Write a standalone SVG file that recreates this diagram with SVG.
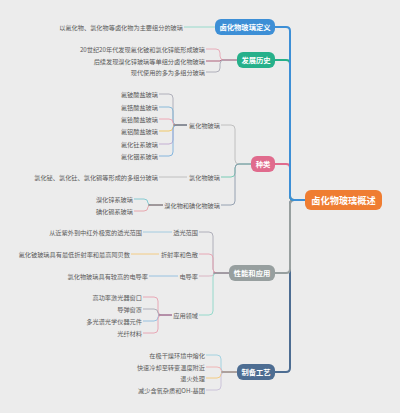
<svg xmlns="http://www.w3.org/2000/svg" width="400" height="413" viewBox="0 0 400 413">
<style>
.t{font-family:"Noto Sans CJK SC","Noto Sans",sans-serif;font-size:6.2px;fill:#5a5a5a;text-anchor:end;dominant-baseline:central}
.b{font-family:"Noto Sans CJK SC","Noto Sans",sans-serif;font-size:7.3px;font-weight:bold;fill:#fff;text-anchor:middle;dominant-baseline:central}
.r{font-family:"Noto Sans CJK SC","Noto Sans",sans-serif;font-size:9.2px;font-weight:bold;fill:#fff;text-anchor:middle;dominant-baseline:central}
.m{fill:none;stroke-width:2;stroke-linecap:round}
.c{fill:none;stroke-width:0.9}
</style>
<rect width="400" height="413" fill="#ececec"/>
<g id="connectors">
<path class="m" stroke="#4d6d92" d="M305,200 H294 Q290,200 290,204 V368 Q290,372 286,372 H275"/>
<path class="m" stroke="#979f9f" d="M305,200 H294 Q290,200 290,204 V269 Q290,273 286,273 H275"/>
<path class="m" stroke="#e06b8d" d="M305,200 H294 Q290,200 290,196 V168 Q290,164 286,164 H275"/>
<path class="m" stroke="#26b08a" d="M305,200 H294 Q290,200 290,196 V64 Q290,60 286,60 H275"/>
<path class="m" stroke="#3d8fd6" d="M305,200 H294 Q290,200 290,196 V31 Q290,27 286,27 H275"/>
<path class="c" stroke="#8ed9c8" d="M215,27 H184"/>
<path class="c" stroke="#e8a7b5" d="M237,60 H224 Q220,60 220,56 V53 Q220,49 216,49 H206"/>
<path class="c" stroke="#a8506e" d="M237,60 H224 Q220,60 220,61 H206"/>
<path class="c" stroke="#a9a9b5" d="M237,60 H224 Q220,60 220,64 V68 Q220,72 216,72 H206"/>
<path class="c" stroke="#bbbbbb" d="M251,164 H239 Q235,164 235,160 V129 Q235,125 231,125 H221"/>
<path class="c" stroke="#6cc9b0" d="M251,164 H239 Q235,164 235,168 V173 Q235,177 231,177 H221"/>
<path class="c" stroke="#8c9aab" d="M251,164 H239 Q235,164 235,168 V201 Q235,205 231,205 H221"/>
<path class="c" stroke="#a9a9b5" d="M187,125 H177 Q173,125 173,121 V98 Q173,94 169,94 H159"/>
<path class="c" stroke="#7fb5d8" d="M187,125 H177 Q173,125 173,121 V111 Q173,107 169,107 H159"/>
<path class="c" stroke="#f0a0b0" d="M187,125 H177 Q173,125 173,123 Q173,119 169,119 H159"/>
<path class="c" stroke="#f2c55a" d="M187,125 H177 Q173,125 173,127 Q173,131 169,131 H159"/>
<path class="c" stroke="#c0a8d0" d="M187,125 H177 Q173,125 173,129 V140 Q173,144 169,144 H159"/>
<path class="c" stroke="#7ab0dc" d="M187,125 H177 Q173,125 173,129 V152 Q173,156 169,156 H159"/>
<path class="c" stroke="#666666" d="M187,125 H173"/>
<path class="c" stroke="#bbbbbb" d="M187,177 H159"/>
<path class="c" stroke="#7cc7cf" d="M163,205 H152 Q148,205 148,203 Q148,199 144,199 H134"/>
<path class="c" stroke="#e8a0a8" d="M163,205 H152 Q148,205 148,207 Q148,211 144,211 H134"/>
<path class="c" stroke="#666666" d="M163,205 H148"/>
<path class="c" stroke="#a9a9b5" d="M229,273 H217 Q213,273 213,269 V236 Q213,232 209,232 H199"/>
<path class="c" stroke="#e8a0b0" d="M229,273 H217 Q213,273 213,269 V258 Q213,254 209,254 H199"/>
<path class="c" stroke="#d8b0c0" d="M229,273 H217 Q213,273 213,275 Q213,276 209,276 H199"/>
<path class="c" stroke="#8dd8c8" d="M229,273 H217 Q213,273 213,277 V311 Q213,315 209,315 H199"/>
<path class="c" stroke="#8a6a7a" d="M229,273 H213"/>
<path class="c" stroke="#9cc8e0" d="M172,232 H143"/>
<path class="c" stroke="#f5c878" d="M159,254 H131"/>
<path class="c" stroke="#8fbde0" d="M178,276 H149"/>
<path class="c" stroke="#e8a0b0" d="M172,315 H162 Q158,315 158,311 V301 Q158,297 154,297 H143"/>
<path class="c" stroke="#a9a9b5" d="M172,315 H162 Q158,315 158,313 Q158,309 154,309 H143"/>
<path class="c" stroke="#8fbde0" d="M172,315 H162 Q158,315 158,317 Q158,321 154,321 H143"/>
<path class="c" stroke="#e8a0b0" d="M172,315 H162 Q158,315 158,319 V329 Q158,333 154,333 H143"/>
<path class="c" stroke="#9a6a8a" d="M172,315 H158"/>
<path class="c" stroke="#9cd0e0" d="M237,372 H225 Q221,372 221,368 V359 Q221,355 217,355 H206"/>
<path class="c" stroke="#f0b0b0" d="M237,372 H225 Q221,372 221,370 Q221,367 217,367 H206"/>
<path class="c" stroke="#f5c878" d="M237,372 H225 Q221,372 221,374 Q221,378 217,378 H206"/>
<path class="c" stroke="#c8c0d8" d="M237,372 H225 Q221,372 221,376 V386 Q221,390 217,390 H206"/>
<path class="c" stroke="#777777" d="M237,372 H221"/>
</g>
<g id="root"><rect x="305" y="190" width="77" height="20" rx="6" fill="#ef7d32"/><text class="r" x="343.5" y="200">卤化物玻璃概述</text></g>
<g id="n-def"><rect x="215" y="19" width="60" height="16" rx="6" fill="#3d8fd6"/><text class="b" x="245" y="27">卤化物玻璃定义</text></g>
<g id="n-def-1"><text class="t" x="183" y="27">以氟化物、氯化物等卤化物为主要组分的玻璃</text></g>
<g id="n-hist"><rect x="237" y="52" width="38" height="16" rx="6" fill="#26b08a"/><text class="b" x="256" y="60">发展历史</text></g>
<g id="n-hist-1"><text class="t" x="205" y="49">20世纪20年代发现氟化铍和氯化锌能形成玻璃</text></g>
<g id="n-hist-2"><text class="t" x="205" y="61">后续发现溴化锌玻璃等单组分卤化物玻璃</text></g>
<g id="n-hist-3"><text class="t" x="205" y="72">现代使用的多为多组分玻璃</text></g>
<g id="n-kind"><rect x="251" y="156" width="24" height="16" rx="6" fill="#e06b8d"/><text class="b" x="263" y="164">种类</text></g>
<g id="n-f"><text class="t" x="220" y="125">氟化物玻璃</text></g>
<g id="n-f-1"><text class="t" x="158" y="94">氟铍酸盐玻璃</text></g>
<g id="n-f-2"><text class="t" x="158" y="107">氟锆酸盐玻璃</text></g>
<g id="n-f-3"><text class="t" x="158" y="119">氟铪酸盐玻璃</text></g>
<g id="n-f-4"><text class="t" x="158" y="131">氟铝酸盐玻璃</text></g>
<g id="n-f-5"><text class="t" x="158" y="144">氟化钍系玻璃</text></g>
<g id="n-f-6"><text class="t" x="158" y="156">氟化铟系玻璃</text></g>
<g id="n-cl"><text class="t" x="220" y="177">氯化物玻璃</text></g>
<g id="n-cl-1"><text class="t" x="158" y="177">氯化铋、氯化钍、氯化镉等形成的多组分玻璃</text></g>
<g id="n-br"><text class="t" x="220" y="205">溴化物和碘化物玻璃</text></g>
<g id="n-br-1"><text class="t" x="133" y="199">溴化锌系玻璃</text></g>
<g id="n-br-2"><text class="t" x="133" y="211">碘化镉系玻璃</text></g>
<g id="n-prop"><rect x="229" y="265" width="46" height="16" rx="6" fill="#979f9f"/><text class="b" x="252" y="273">性能和应用</text></g>
<g id="n-p1"><text class="t" x="198" y="232">透光范围</text></g>
<g id="n-p1-1"><text class="t" x="142" y="232">从近紫外到中红外极宽的透光范围</text></g>
<g id="n-p2"><text class="t" x="198" y="254">折射率和色散</text></g>
<g id="n-p2-1"><text class="t" x="130" y="254">氟化铍玻璃具有最低折射率和最高阿贝数</text></g>
<g id="n-p3"><text class="t" x="198" y="276">电导率</text></g>
<g id="n-p3-1"><text class="t" x="148" y="276">氯化物玻璃具有较高的电导率</text></g>
<g id="n-p4"><text class="t" x="198" y="315">应用领域</text></g>
<g id="n-p4-1"><text class="t" x="142" y="297">高功率激光器窗口</text></g>
<g id="n-p4-2"><text class="t" x="142" y="309">导弹窗罩</text></g>
<g id="n-p4-3"><text class="t" x="142" y="321">多光谱光学仪器元件</text></g>
<g id="n-p4-4"><text class="t" x="142" y="333">光纤材料</text></g>
<g id="n-make"><rect x="237" y="364" width="38" height="16" rx="6" fill="#4d6d92"/><text class="b" x="256" y="372">制备工艺</text></g>
<g id="n-m1"><text class="t" x="205" y="355">在极干燥环境中熔化</text></g>
<g id="n-m2"><text class="t" x="205" y="367">快速冷却至转变温度附近</text></g>
<g id="n-m3"><text class="t" x="205" y="378">退火处理</text></g>
<g id="n-m4"><text class="t" x="205" y="390">减少含氧杂质和OH-基团</text></g>
</svg>
